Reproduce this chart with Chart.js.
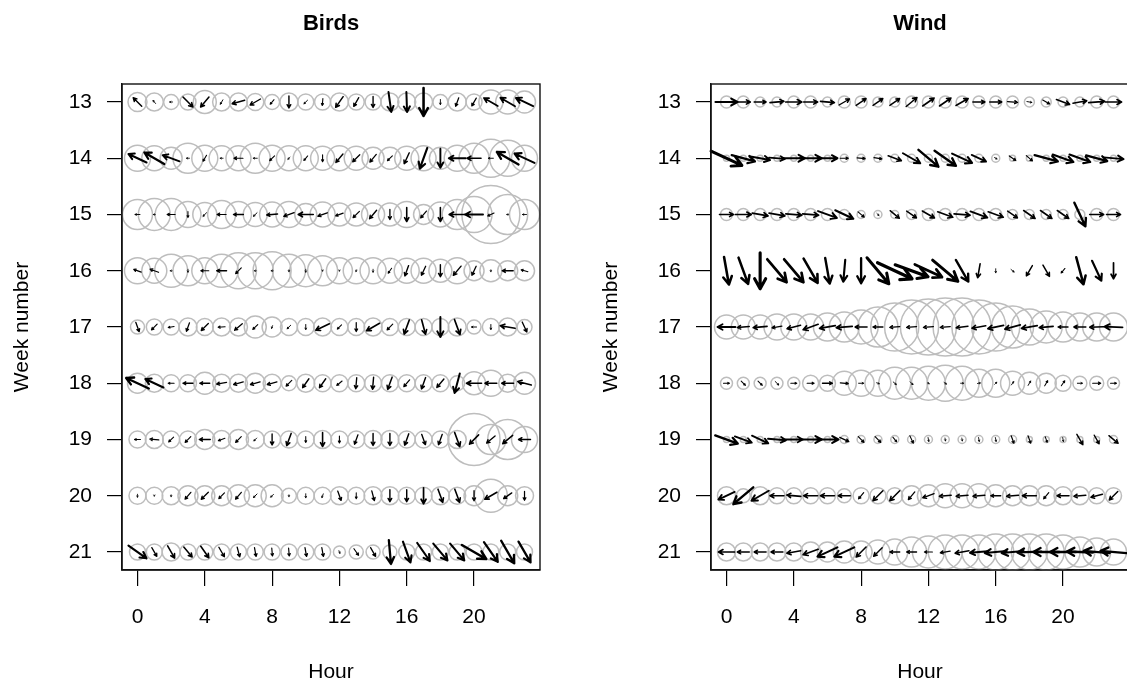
<!DOCTYPE html>
<html>
<head>
<meta charset="utf-8">
<script src="https://cdn.jsdelivr.net/npm/chart.js@4.4.1/dist/chart.umd.min.js"></script>
<style>
  html, body { margin: 0; padding: 0; background: #fff; overflow: hidden; }
  #wrap { position: relative; width: 1127px; height: 687px; overflow: hidden; }
  .panel { position: absolute; top: 0; width: 589px; height: 687px; }
  #birdsPanel { left: 0; }
  #windPanel { left: 589px; }
</style>
</head>
<body>
<div id="wrap">
  <div class="panel" id="birdsPanel"><canvas id="birds" width="589" height="687"></canvas></div>
  <div class="panel" id="windPanel"><canvas id="wind" width="589" height="687"></canvas></div>
</div>
<script>
const weeks = [13, 14, 15, 16, 17, 18, 19, 20, 21];
const hours = [0, 1, 2, 3, 4, 5, 6, 7, 8, 9, 10, 11, 12, 13, 14, 15, 16, 17, 18, 19, 20, 21, 22, 23];
const hourTicks = [0, 4, 8, 12, 16, 20];
const weekTicks = [13, 14, 15, 16, 17, 18, 19, 20, 21];

// birds: spread (circle), heading in degrees (0 = up the page) and speed, one row per week
const birdSpread = [
  [9.5, 9, 7.5, 8, 11.5, 9, 9, 8.5, 7.5, 9, 8, 8, 9, 8, 8, 9, 9, 9, 7.5, 9, 8, 12, 12, 11],
  [13, 12.5, 11, 15, 13, 12.5, 12.5, 15, 13, 12.5, 12.5, 12, 12.5, 12, 11, 11, 12, 12.5, 11, 13, 15, 19, 18, 13],
  [15, 16, 16, 13, 12, 14, 13, 12, 12.5, 13, 11, 12.5, 11.5, 11.5, 11.5, 11.5, 13, 10, 12.5, 15, 18, 29, 20, 15],
  [13, 12.5, 16.5, 15, 13, 16.5, 18, 18, 19, 16.5, 16, 15, 13, 13, 13, 12.5, 12.5, 12.5, 11.5, 13, 10, 11, 10, 10],
  [7, 8, 8, 9, 8.5, 9, 9, 11, 10, 8.5, 8.5, 9, 8.5, 8.5, 9, 8.5, 8.5, 8.5, 8.5, 9, 7, 8.5, 9, 7.5],
  [10, 9, 8.5, 8.5, 11, 9, 9, 10, 9, 7.5, 9, 8.5, 8.5, 8.5, 8.5, 8.5, 8.5, 8.5, 8.5, 7.5, 11.5, 13, 9, 11],
  [8.5, 9, 8.5, 8.5, 10, 9, 10, 9, 8.5, 8.5, 8.5, 9, 8.5, 8.5, 9, 9, 8.5, 8.5, 8.5, 9, 26, 15, 20, 13],
  [8.5, 8.5, 9, 10, 10, 10, 11, 11, 11, 7.5, 8.5, 8.5, 9, 8.5, 9, 9, 8.5, 8.5, 9, 8.5, 10, 16.5, 10, 9],
  [8, 8, 9, 8, 8, 8, 8, 8, 8, 8, 8, 8, 6, 7, 7, 7, 8, 8, 8, 8, 8, 8, 8, 8]
];
const birdDir = [
  [315, 320, 270, 135, 220, 210, 255, 240, 220, 180, 225, 185, 215, 210, 180, 172, 178, 180, 180, 200, 210, 300, 300, 295],
  [295, 300, 290, 270, 210, 270, 270, 270, 225, 225, 220, 180, 220, 225, 220, 225, 205, 200, 180, 270, 270, 270, 300, 295],
  [270, 270, 270, 180, 225, 270, 270, 225, 265, 250, 270, 250, 250, 225, 220, 180, 180, 220, 180, 270, 270, 245, 270, 270],
  [290, 290, 270, 180, 270, 270, 225, 270, 270, 180, 180, 180, 180, 200, 180, 215, 200, 205, 180, 220, 205, 180, 270, 285],
  [160, 225, 260, 200, 225, 265, 230, 225, 200, 225, 180, 245, 225, 180, 240, 225, 200, 165, 180, 160, 270, 180, 280, 155],
  [295, 295, 270, 270, 270, 260, 255, 255, 255, 225, 215, 215, 230, 185, 185, 200, 220, 200, 220, 195, 270, 270, 270, 285],
  [270, 275, 225, 225, 270, 250, 225, 225, 180, 200, 180, 180, 180, 200, 180, 180, 200, 160, 200, 160, 225, 230, 230, 270],
  [180, 180, 180, 220, 225, 225, 220, 225, 225, 180, 180, 200, 160, 180, 165, 180, 180, 180, 160, 160, 180, 240, 235, 180],
  [125, 150, 150, 140, 145, 150, 165, 170, 175, 175, 170, 170, 160, 145, 150, 175, 160, 145, 140, 140, 120, 145, 150, 150]
];
const birdSpeed = [
  [12, 4, 3, 14, 13, 5, 13, 12, 6, 12, 5, 7, 13, 10, 11, 20, 20, 28, 5, 9, 9, 16, 17, 19],
  [20, 23, 18, 3, 7, 3, 9, 4, 7, 3, 6, 7, 11, 10, 10, 7, 12, 22, 19, 17, 14, 5, 25, 22],
  [5, 2, 8, 6, 5, 9, 10, 5, 11, 11, 15, 10, 8, 9, 11, 10, 14, 9, 14, 16, 18, 7, 2, 4],
  [8, 9, 2, 3, 8, 10, 8, 2, 2, 2, 3, 1, 1, 2, 3, 6, 11, 10, 12, 12, 10, 2, 11, 7],
  [10, 8, 6, 9, 10, 7, 10, 7, 3, 5, 5, 15, 6, 9, 15, 8, 15, 15, 20, 16, 5, 5, 15, 11],
  [25, 20, 6, 10, 10, 10, 10, 10, 10, 8, 11, 11, 7, 11, 12, 13, 9, 12, 11, 20, 15, 12, 12, 14],
  [6, 9, 7, 8, 11, 7, 8, 4, 11, 13, 6, 14, 7, 10, 12, 12, 12, 11, 11, 15, 13, 11, 13, 12],
  [3, 1, 2, 9, 10, 8, 9, 5, 4, 2, 4, 4, 10, 6, 10, 12, 12, 16, 14, 14, 10, 14, 10, 9],
  [22, 10, 14, 13, 14, 11, 10, 9, 8, 8, 9, 9, 3, 8, 10, 24, 22, 22, 22, 22, 28, 24, 26, 24]
];

// wind: same layout
const windSpread = [
  [6, 6, 5, 5, 6, 6, 5, 6, 6, 5, 5, 6, 6, 6, 6, 6, 6, 6, 5, 5, 5, 5, 6, 6],
  [3, 3, 3, 3, 3, 3, 3, 4, 4, 4, 4, 4, 4, 4, 4, 4, 4, 3, 3, 3, 3, 3, 3, 3],
  [6, 6, 6, 6, 6, 6, 6, 5, 4, 4, 4, 5, 6, 6, 6, 6, 6, 5, 5, 5, 5, 5, 6, 6],
  [0, 0, 0, 0, 0, 0, 0, 0, 0, 0, 0, 0, 0, 0, 0, 0, 0, 0, 0, 0, 0, 0, 0, 0],
  [12, 12, 12, 13, 13, 13, 14, 15, 17, 20, 24, 27, 28, 29, 29, 27, 24, 21, 18, 16, 15, 14, 14, 14],
  [6, 6, 6, 6, 6, 8, 8, 12, 13, 13, 16, 16, 17, 18, 17, 14, 14, 12, 11, 10, 8, 7, 7, 6],
  [3, 3, 3, 3, 3, 3, 3, 4, 4, 4, 4, 4, 4, 4, 4, 4, 4, 4, 3, 3, 3, 3, 3, 4],
  [9, 7, 9, 8, 8, 8, 8, 7, 8, 8, 8, 10, 11, 12, 12, 12, 11, 10, 10, 10, 9, 9, 8, 8],
  [9, 9, 9, 9, 9, 10, 10, 11, 11, 12, 13, 15, 16, 17, 17, 17, 18, 18, 18, 18, 17, 15, 14, 13]
];
const windDir = [
  [90, 90, 90, 85, 90, 90, 95, 60, 55, 55, 55, 50, 55, 55, 60, 90, 90, 95, 100, 120, 110, 80, 85, 90],
  [115, 105, 100, 95, 90, 90, 90, 90, 95, 100, 110, 120, 130, 125, 115, 115, 120, 125, 130, 105, 110, 110, 105, 95],
  [90, 90, 100, 100, 95, 95, 110, 115, 130, 135, 130, 125, 120, 110, 95, 110, 110, 125, 125, 125, 125, 155, 90, 90],
  [170, 160, 180, 140, 140, 150, 170, 185, 180, 140, 115, 110, 115, 130, 150, 190, 180, 130, 210, 150, 220, 165, 155, 180],
  [270, 265, 265, 260, 255, 250, 260, 265, 270, 270, 265, 265, 265, 265, 262, 260, 258, 255, 260, 265, 270, 270, 268, 272],
  [90, 135, 135, 135, 90, 90, 90, 95, 90, 110, 130, 135, 120, 125, 90, 80, 45, 35, 30, 30, 35, 90, 90, 90],
  [110, 110, 115, 95, 90, 90, 90, 115, 135, 135, 140, 155, 170, 170, 170, 170, 170, 160, 160, 160, 170, 150, 150, 130],
  [245, 230, 240, 270, 275, 270, 270, 270, 220, 225, 225, 220, 250, 265, 265, 265, 270, 265, 270, 220, 270, 265, 255, 225],
  [270, 270, 270, 270, 260, 250, 245, 245, 225, 225, 270, 270, 270, 260, 260, 265, 265, 265, 268, 270, 270, 272, 275, 275]
];
const windSpeed = [
  [22, 14, 12, 14, 16, 14, 14, 12, 12, 12, 12, 14, 14, 14, 14, 12, 12, 10, 5, 8, 14, 14, 16, 16],
  [34, 24, 20, 16, 22, 22, 20, 8, 8, 8, 14, 20, 26, 26, 22, 16, 3, 8, 8, 24, 22, 22, 22, 20],
  [14, 16, 16, 16, 16, 16, 20, 20, 8, 3, 12, 12, 14, 16, 16, 18, 16, 12, 14, 14, 14, 26, 14, 14],
  [28, 28, 36, 30, 30, 28, 26, 22, 25, 34, 38, 35, 30, 33, 25, 14, 4, 4, 12, 13, 6, 28, 22, 16],
  [18, 12, 14, 10, 14, 16, 16, 16, 12, 10, 10, 10, 10, 10, 12, 14, 16, 16, 16, 14, 10, 12, 14, 18],
  [6, 6, 6, 5, 6, 7, 10, 8, 5, 3, 4, 4, 2, 3, 3, 3, 3, 4, 5, 6, 6, 5, 8, 6],
  [24, 18, 18, 18, 18, 22, 22, 10, 8, 8, 6, 8, 4, 3, 3, 4, 4, 8, 8, 6, 4, 12, 10, 12],
  [18, 26, 20, 14, 14, 14, 14, 12, 8, 14, 14, 10, 12, 12, 12, 12, 10, 12, 14, 8, 12, 12, 12, 12],
  [16, 12, 12, 12, 14, 16, 22, 22, 14, 12, 10, 10, 8, 10, 14, 18, 22, 22, 24, 26, 26, 26, 26, 26]
];

const CIRCLE_SCALE = 1;   // spread -> circle radius (px)
const ARROW_SCALE = 1;    // speed -> arrow length (px)

Chart.defaults.font.family = '"Liberation Sans", Arial, sans-serif';
Chart.defaults.color = '#000';

// arrows centred on each (hour, week) cell, drawn on top of the circles
const arrowPlugin = {
  id: 'arrows',
  afterDatasetsDraw(chart) {
    const ctx = chart.ctx;
    const xs = chart.scales.x, ys = chart.scales.y;
    ctx.save();
    ctx.strokeStyle = '#000';
    ctx.lineCap = 'round';
    ctx.lineJoin = 'round';
    chart.data.datasets[0].data.forEach(p => {
      const len = p.spd * ARROW_SCALE;
      if (len < 0.5) return;
      const cx = xs.getPixelForValue(p.x);
      const cy = ys.getPixelForValue(p.y);
      const a = p.dir * Math.PI / 180;
      const dx = Math.sin(a) * len, dy = -Math.cos(a) * len;
      const x0 = cx - dx / 2, y0 = cy - dy / 2;
      const x1 = cx + dx / 2, y1 = cy + dy / 2;
      const head = Math.max(1.5, len * 0.32);
      const back = Math.atan2(y0 - y1, x0 - x1);
      ctx.lineWidth = 0.6 + len * 0.07;
      ctx.beginPath();
      ctx.moveTo(x0, y0);
      ctx.lineTo(x1, y1);
      ctx.moveTo(x1 + Math.cos(back + 0.5) * head, y1 + Math.sin(back + 0.5) * head);
      ctx.lineTo(x1, y1);
      ctx.lineTo(x1 + Math.cos(back - 0.5) * head, y1 + Math.sin(back - 0.5) * head);
      ctx.stroke();
    });
    ctx.restore();
  }
};

// closed frame around the plot region
const framePlugin = {
  id: 'frame',
  afterDraw(chart) {
    const {left, top, right, bottom} = chart.chartArea;
    const ctx = chart.ctx;
    ctx.save();
    ctx.strokeStyle = '#111';
    ctx.lineWidth = 1.4;
    ctx.strokeRect(left, top, right - left, bottom - top);
    ctx.restore();
  }
};

const makeChart = (id, title, spread, dir, speed) => {
  const points = [];
  weeks.forEach((w, i) => {
    hours.forEach((h, j) => {
      points.push({x: h, y: w, r: spread[i][j], dir: dir[i][j], spd: speed[i][j]});
    });
  });

  return new Chart(document.getElementById(id), {
    type: 'scatter',
    data: {
      datasets: [{
        data: points,
        pointRadius: c => c.raw.r * CIRCLE_SCALE,
        pointBorderColor: '#bdbdbd',
        pointBackgroundColor: 'rgba(0,0,0,0)',
        pointBorderWidth: 1.5,
        clip: false
      }]
    },
    options: {
      responsive: false,
      animation: false,
      events: [],
      layout: {padding: {left: 0, top: 0, bottom: 0, right: 49}},
      plugins: {
        legend: {display: false},
        tooltip: {enabled: false},
        title: {
          display: true,
          text: title,
          fullSize: false,
          font: {size: 22, weight: 'bold'},
          color: '#000',
          padding: {top: 10.8, bottom: 46.8}
        }
      },
      scales: {
        x: {
          type: 'linear',
          min: -0.92,
          max: 23.92,
          afterBuildTicks: s => { s.ticks = hourTicks.map(v => ({value: v})); },
          afterFit: s => { s.height = 117; },
          grid: {drawOnChartArea: false, drawTicks: true, tickLength: 16, color: '#000', lineWidth: 1.2},
          border: {display: true, color: '#111', width: 1.4},
          ticks: {font: {size: 21}, color: '#000', padding: 18.4, maxRotation: 0, autoSkip: false},
          title: {display: true, text: 'Hour', font: {size: 21}, color: '#000', padding: {top: 0, bottom: 2.4}}
        },
        y: {
          type: 'linear',
          reverse: true,
          min: 12.68,
          max: 21.32,
          afterBuildTicks: s => { s.ticks = weekTicks.map(v => ({value: v})); },
          afterFit: s => { s.width = 122; },
          grid: {drawOnChartArea: false, drawTicks: true, tickLength: 15, color: '#000', lineWidth: 1.2},
          border: {display: true, color: '#111', width: 1.4},
          ticks: {font: {size: 21}, color: '#000', padding: 15, autoSkip: false},
          title: {display: true, text: 'Week number', font: {size: 21}, color: '#000', padding: {top: 9.4, bottom: 0}}
        }
      }
    },
    plugins: [arrowPlugin, framePlugin]
  });
};

makeChart('birds', 'Birds', birdSpread, birdDir, birdSpeed);
makeChart('wind', 'Wind', windSpread, windDir, windSpeed);
</script>
</body>
</html>
